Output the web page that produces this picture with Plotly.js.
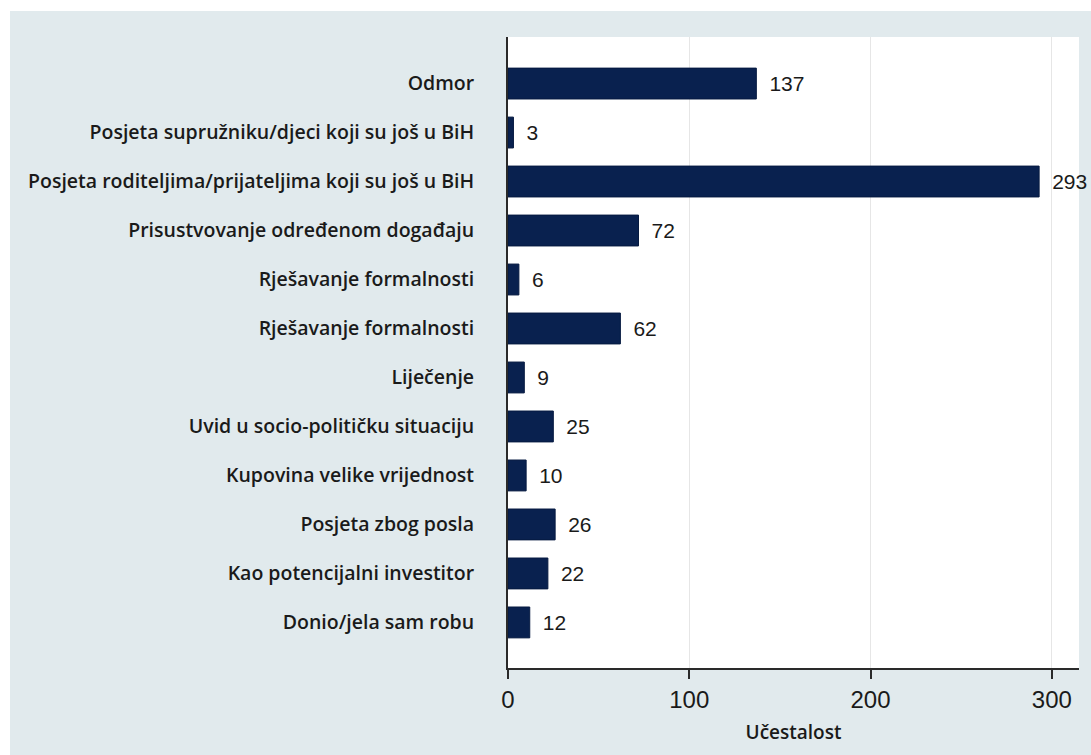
<!DOCTYPE html>
<html>
<head>
<meta charset="utf-8">
<script src="https://cdn.plot.ly/plotly-3.0.1.min.js"></script>
<style>
  html, body { margin: 0; padding: 0; background: #ffffff; }
  #wrap { position: absolute; left: 10px; top: 11px; }
  #chart { width: 1081px; height: 744px; }
</style>
</head>
<body>
<div id="wrap"><div id="chart"></div></div>
<script>
// Data
const categories = [
  "Odmor",
  "Posjeta supružniku/djeci koji su još u BiH",
  "Posjeta roditeljima/prijateljima koji su još u BiH",
  "Prisustvovanje određenom događaju",
  "Rješavanje formalnosti",
  "Rješavanje formalnosti",
  "Liječenje",
  "Uvid u socio-političku situaciju",
  "Kupovina velike vrijednost",
  "Posjeta zbog posla",
  "Kao potencijalni investitor",
  "Donio/jela sam robu"
];
const frequencies = [137, 3, 293, 72, 6, 62, 9, 25, 10, 26, 22, 12];
const xTickValues = [0, 100, 200, 300];
const xAxisTitle = "Učestalost";

// positions: one slot per category (categories contain a duplicate label)
const slots = categories.map((c, i) => i);

const trace = {
  type: "bar",
  orientation: "h",
  x: frequencies,
  y: slots,
  width: 0.63,
  marker: { color: "#09214f", line: { color: "#061a40", width: 1 } },
  text: frequencies.map(v => "\u00a0\u2009" + v),
  textposition: "outside",
  cliponaxis: false,
  textfont: { family: "Liberation Sans, Arial, sans-serif", size: 21, color: "#1a1a1a" },
  hoverinfo: "x+y"
};

const layout = {
  width: 1081,
  height: 744,
  paper_bgcolor: "#e1eaed",
  plot_bgcolor: "#ffffff",
  margin: { l: 498, r: 12, t: 26, b: 87, pad: 0 },
  showlegend: false,
  bargap: 0.37,
  xaxis: {
    range: [0, 315],
    tickvals: xTickValues,
    ticktext: xTickValues.map(String),
    showgrid: true,
    gridcolor: "#e6e6e6",
    gridwidth: 1,
    zeroline: false,
    showline: true,
    linecolor: "#2a2a2a",
    linewidth: 2,
    ticks: "outside",
    ticklen: 9,
    tickwidth: 2,
    tickcolor: "#2a2a2a",
    tickfont: { family: "Liberation Sans, Arial, sans-serif", size: 24, color: "#1a1a1a" },
    title: {
      text: xAxisTitle,
      font: { family: "Open Sans, sans-serif", size: 19, color: "#1a1a1a", weight: 600 },
      standoff: 14
    },
    fixedrange: true
  },
  yaxis: {
    range: [11.93, -0.95],
    tickmode: "array",
    tickvals: slots,
    ticktext: categories,
    showgrid: false,
    zeroline: false,
    showline: true,
    linecolor: "#2a2a2a",
    linewidth: 2,
    ticks: "outside",
    ticklen: 28,
    tickcolor: "rgba(0,0,0,0)",
    tickfont: { family: "Open Sans, sans-serif", size: 19.5, color: "#1a1a1a", weight: 600 },
    fixedrange: true
  }
};

Plotly.newPlot("chart", [trace], layout, { displayModeBar: false, staticPlot: true });
</script>
</body>
</html>
